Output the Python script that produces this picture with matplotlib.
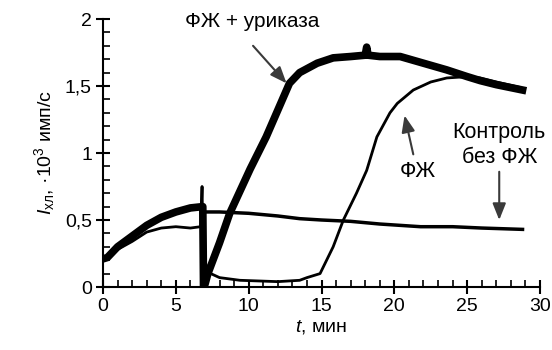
import matplotlib
matplotlib.use('Agg')
import matplotlib.pyplot as plt
from matplotlib.ticker import MultipleLocator, FuncFormatter

plt.rcParams['font.family'] = ['Liberation Sans', 'DejaVu Sans']
plt.rcParams['mathtext.fontset'] = 'custom'
plt.rcParams['mathtext.rm'] = 'Liberation Sans'
plt.rcParams['mathtext.it'] = 'Liberation Sans:italic'

# ── данные ───────────────────────────────────────────────────────
t_uric = [0, 0.3, 1, 2, 3, 4, 5, 6, 6.85, 6.9, 7.0, 7.2, 8, 8.7, 10.1, 11.2,
          12.4, 12.8, 13.5, 14.7, 15.8, 17, 18, 18.1, 18.2, 19, 20.4, 22,
          23.6, 25, 25.9, 27, 28.8]
y_uric = [0.21, 0.22, 0.3, 0.38, 0.46, 0.52, 0.56, 0.59, 0.6, 0.0, 0.02, 0.1,
          0.33, 0.55, 0.88, 1.12, 1.42, 1.52, 1.6, 1.67, 1.71, 1.72, 1.73,
          1.79, 1.73, 1.72, 1.72, 1.67, 1.62, 1.57, 1.54, 1.51, 1.47]

t_fzh = [0, 0.3, 1, 2, 3, 4, 5, 6, 6.7, 6.8, 6.9, 7.2, 8, 9.4, 12, 13.5, 14,
         14.9, 15.8, 16.5, 17.4, 18.1, 18.8, 19.7, 20.2, 21.3, 22.5, 23.6,
         25, 25.9, 27, 28.6]
y_fzh = [0.2, 0.21, 0.28, 0.34, 0.41, 0.44, 0.45, 0.44, 0.45, 0.75, 0.0, 0.11,
         0.07, 0.05, 0.04, 0.05, 0.07, 0.1, 0.3, 0.5, 0.7, 0.87, 1.12, 1.3,
         1.37, 1.47, 1.53, 1.56, 1.57, 1.56, 1.53, 1.49]

t_ctrl = [0, 0.3, 1, 2, 3, 4, 5, 6, 6.7, 7, 8, 10, 12, 13.5, 15, 17, 19,
          21.8, 24, 26, 28.8]
y_ctrl = [0.21, 0.22, 0.3, 0.37, 0.46, 0.52, 0.56, 0.58, 0.59, 0.56, 0.56,
          0.55, 0.53, 0.51, 0.5, 0.49, 0.47, 0.45, 0.45, 0.44, 0.43]

fig = plt.figure(figsize=(5.52, 3.5), dpi=100)
ax = fig.add_axes([0.1866, 0.18, 0.7917, 0.7657])

ax.plot(t_ctrl, y_ctrl, color='black', lw=2.5)
ax.plot(t_fzh, y_fzh, color='black', lw=2.0)
ax.plot(t_uric, y_uric, color='black', lw=5.5, solid_joinstyle='round')

ax.set_xlim(0, 30)
ax.set_ylim(0, 2)
for s in ['top', 'right']:
    ax.spines[s].set_visible(False)
for s in ['left', 'bottom']:
    ax.spines[s].set_linewidth(1.5)

ax.xaxis.set_major_locator(MultipleLocator(5))
ax.xaxis.set_minor_locator(MultipleLocator(1))
ax.yaxis.set_major_locator(MultipleLocator(0.5))
ax.yaxis.set_minor_locator(MultipleLocator(0.1))
ax.yaxis.set_major_formatter(FuncFormatter(lambda v, p: f'{v:g}'.replace('.', ',')))
ax.tick_params(which='major', direction='inout', length=10, width=1.5,
               labelsize=14, colors='black', pad=3)
ax.tick_params(which='minor', direction='in', length=5, width=1.2)

ax.set_xlabel(r'$\mathit{t}$, мин', fontsize=14, labelpad=2)
ax.set_ylabel(r'$\mathit{I}_{\mathrm{хл}}$, ·10$^{3}$ имп/с', fontsize=14, labelpad=6)

arrow = dict(arrowstyle='-|>,head_length=1.0,head_width=0.4', color='#3a3a3a',
             lw=1.5, shrinkA=0, shrinkB=0)
ax.text(5.6, 1.98, 'ФЖ + уриказа', fontsize=15, ha='left', va='center')
ax.annotate('', xy=(12.6, 1.52), xytext=(10.3, 1.80), arrowprops=arrow)
ax.annotate('', xy=(20.7, 1.28), xytext=(21.3, 0.99), arrowprops=arrow)
ax.text(21.6, 0.86, 'ФЖ', fontsize=15.5, ha='center', va='center')
ax.text(27.2, 1.06, 'Контроль\nбез ФЖ', fontsize=15.5, ha='center', va='center',
        linespacing=1.25)
ax.annotate('', xy=(27.2, 0.5), xytext=(27.2, 0.86), arrowprops=arrow)

fig.savefig('out.png', dpi=100)
